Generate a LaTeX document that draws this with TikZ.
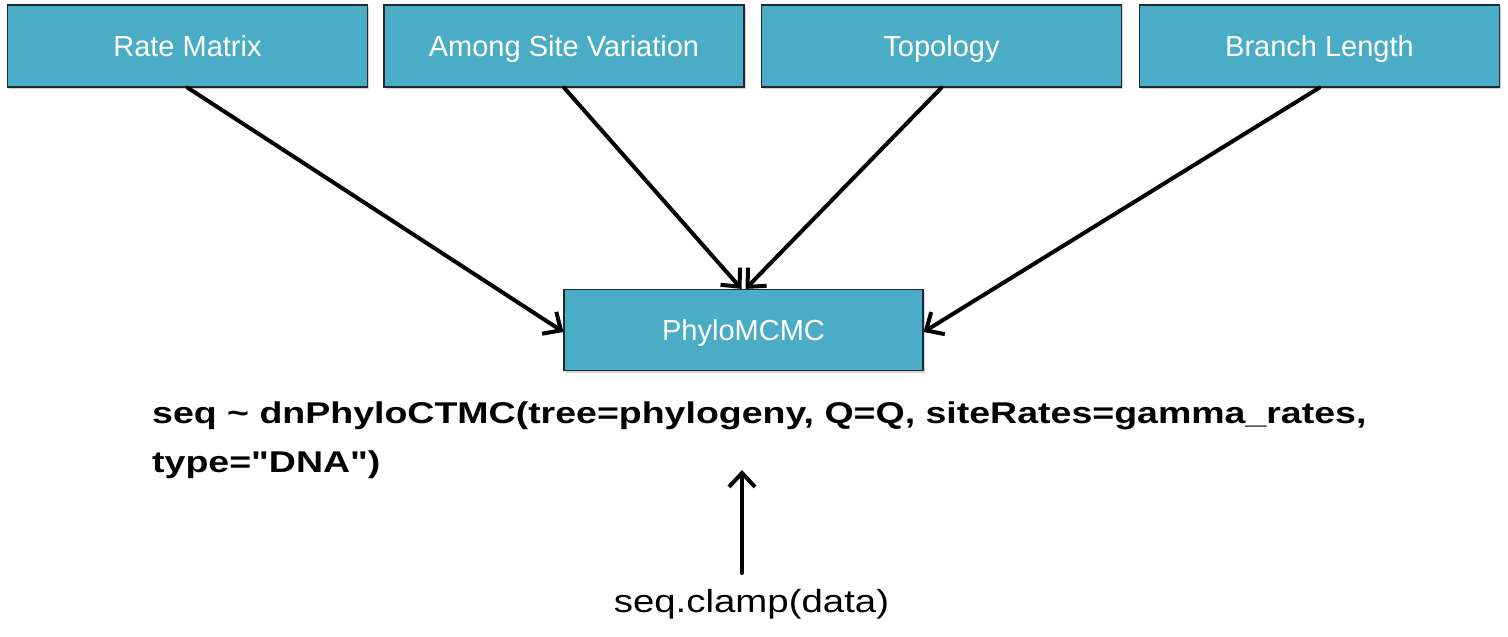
\documentclass[tikz,border=0pt]{standalone}
\usepackage{fontspec}
\setmainfont{Liberation Sans}[Ligatures=TeXOff]
\usetikzlibrary{arrows.meta,shadows}
\definecolor{boxfill}{HTML}{4BACC6}
\definecolor{boxedge}{HTML}{1F2A30}
\tikzset{
  x=1pt, y=-1pt,
  param/.style={draw=boxedge, line width=1.2pt, fill=boxfill, text=white,
    minimum width=360pt, minimum height=82pt, inner sep=0pt,
    text height=20.8pt, text depth=0pt,
    font=\fontsize{29}{34}\selectfont,
    drop shadow={shadow xshift=1.5pt, shadow yshift=-2pt, opacity=0.35}},
  codetext/.style={inner sep=0pt, anchor=base west, font=\fontsize{30}{36}\bfseries\selectfont},
  link/.style={line width=4pt, line cap=round,
    -{Straight Barb[length=14pt,width=26pt,line width=4pt]}}
}
\newcommand{\widetext}[2]{\scalebox{#1}[1]{#2}}
\begin{document}
\begin{tikzpicture}
\useasboundingbox (0,0) rectangle (1508,637);
% parameter boxes
\node[param] (rate) at (187.5,46) {Rate Matrix};
\node[param] (asv)  at (564,46) {Among Site Variation};
\node[param] (topo) at (941.5,46) {Topology};
\node[param] (bl)   at (1319.5,46) {Branch Length};
% model node
\node[param, minimum width=359pt, minimum height=81pt] (mcmc) at (743.5,330) {PhyloMCMC};
% model statement
\node[codetext] (code) at (152,423)
  {\widetext{1.25}{seq \textasciitilde{} dnPhyloCTMC(tree=phylogeny, Q=Q, siteRates=gamma\_rates,}};
\node[codetext] (codecont) at (152,472)
  {\widetext{1.25}{type="DNA")}};
\node[inner sep=0pt, anchor=base, font=\fontsize{32}{38}\selectfont] (clamp) at (751.5,612)
  {\widetext{1.2}{seq.clamp(data)}};
\coordinate (cl) at (742,573);
\coordinate (ct) at (742,470);
% connectors
\draw[link] (rate.south) -- ([yshift=-2pt]mcmc.west);
\draw[link] (asv.south) -- ([xshift=-2pt]mcmc.north);
\draw[link] (topo.south) -- ([xshift=2pt]mcmc.north);
\draw[link] (bl.south) -- ([yshift=-2pt]mcmc.east);
\draw[link] (cl) -- (ct);
\end{tikzpicture}
\end{document}
